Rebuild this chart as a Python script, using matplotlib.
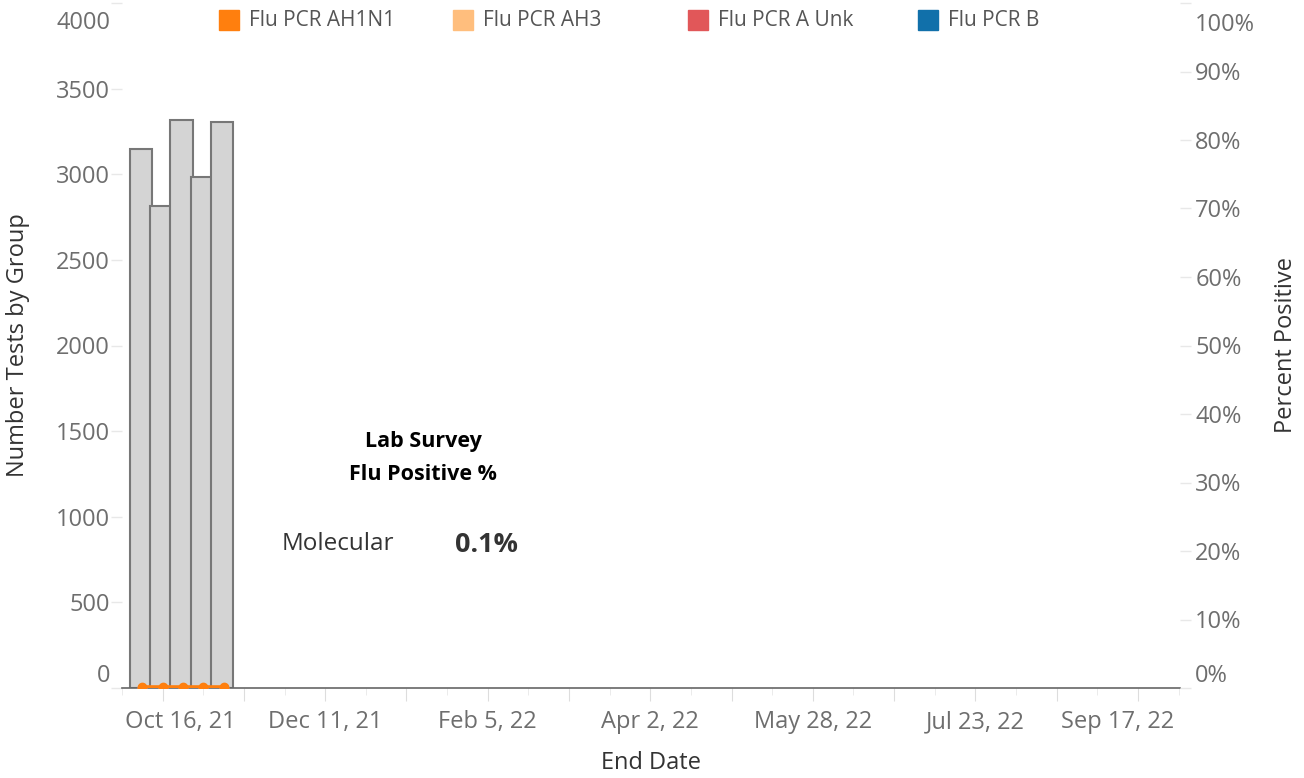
import matplotlib
matplotlib.use("Agg")
import matplotlib.pyplot as plt
import pandas as pd
from matplotlib.patches import Rectangle
from matplotlib.transforms import ScaledTranslation

plt.rcParams['font.family'] = ['Open Sans', 'DejaVu Sans']

# Weekly lab survey data
week_end = pd.to_datetime(['2021-10-09', '2021-10-16', '2021-10-23', '2021-10-30', '2021-11-06'])
total_tests = [3150, 2815, 3318, 2982, 3307]

pct_ah1n1 = [0.1, 0.1, 0.1, 0.1, 0.1]
pct_ah3 = [0.0, 0.0, 0.0, 0.0, 0.0]
pct_a_unk = [0.0, 0.0, 0.0, 0.0, 0.0]
pct_b = [0.0, 0.0, 0.0, 0.0, 0.0]

series_names = ['Flu PCR AH1N1', 'Flu PCR AH3', 'Flu PCR A Unk', 'Flu PCR B']
series_colors = ['#ff7f0e', '#ffbe7d', '#e15759', '#1170aa']
series_values = [pct_ah1n1, pct_ah3, pct_a_unk, pct_b]

left_ticks = [0, 500, 1000, 1500, 2000, 2500, 3000, 3500, 4000]
right_ticks = [0, 10, 20, 30, 40, 50, 60, 70, 80, 90, 100]
molecular_pct = '0.1%'

W, H = 1304, 778
fig = plt.figure(figsize=(W / 100, H / 100), dpi=100)

# ---- main axes (bars, number of tests) ----
ax = fig.add_axes([122 / W, 1 - 688 / H, (1180 - 122) / W, (688 - 3) / H])
ax.bar(week_end - pd.Timedelta(hours=12), total_tests, width=7.8, color='#d4d4d4',
       edgecolor='#777777', linewidth=1.5, zorder=2)
ax.set_ylim(0, 4000)
ax.set_xlim(pd.Timestamp('2021-10-03 16:00'), pd.Timestamp('2022-10-01 12:00'))

for s in ['top', 'left', 'right']:
    ax.spines[s].set_visible(False)
ax.spines['bottom'].set_color('#666666')
ax.spines['bottom'].set_linewidth(1.2)

ax.set_yticks(left_ticks)
ax.set_yticklabels([str(v) for v in left_ticks])
ax.tick_params(axis='y', length=8, color='#e8e8e8', width=1,
               labelsize=17, labelcolor='#6e6e6e', pad=0.5)

# x ticks: every 4 weeks, label every 8 weeks, minor every 2 weeks
major_dates = pd.date_range('2021-10-16', '2022-10-01', freq='28D')
minor_dates = pd.date_range('2021-10-02', '2022-10-01', freq='14D')
ax.set_xticks(major_dates)
ax.set_xticks(minor_dates, minor=True)
ax.set_xticklabels([f"{d:%b} {d.day}, {d:%y}" if i % 2 == 0 else ''
                    for i, d in enumerate(major_dates)])
ax.tick_params(axis='x', which='major', length=9, color='#dddddd',
               labelsize=17, labelcolor='#6e6e6e', pad=7)
ax.tick_params(axis='x', which='minor', length=5, color='#e8e8e8')

# ---- right axes (percent positive) ----
ax2 = ax.twinx()
ax2.set_ylim(0, 100)
for name, color, vals in reversed(list(zip(series_names, series_colors, series_values))):
    ax2.plot(week_end, vals, color=color, linewidth=2.6, marker='o',
             markersize=6, zorder=3, label=name)
for s in ax2.spines.values():
    s.set_visible(False)
ax2.set_yticks(right_ticks)
ax2.set_yticklabels([f"{v}%" for v in right_ticks])
ax2.tick_params(axis='y', length=8, color='#e8e8e8', width=1,
                labelsize=17, labelcolor='#6e6e6e', pad=3)

# Tableau nudges the end labels inside the pane
def nudge(label, dx, dy):
    label.set_transform(label.get_transform() + ScaledTranslation(dx / 100, dy / 100, fig.dpi_scale_trans))

ylab = ax.get_yticklabels()
nudge(ylab[0], 0, 15)
nudge(ylab[-1], 0, -17)
ylab2 = ax2.get_yticklabels()
nudge(ylab2[0], 0, 15)
nudge(ylab2[-1], 0, -19)
xlab = [t for t in ax.get_xticklabels() if t.get_text()]
nudge(xlab[0], 18, 0)
nudge(xlab[-1], -20, 0)

# ---- axis titles ----
fig.text(18 / W, 1 - 345 / H, 'Number Tests by Group', rotation=90,
         ha='center', va='center', fontsize=17, color='#333333')
fig.text(1286 / W, 1 - 345 / H, 'Percent Positive', rotation=90,
         ha='center', va='center', fontsize=17, color='#333333')
fig.text(651 / W, 1 - 763 / H, 'End Date', ha='center', va='center',
         fontsize=17, color='#333333')

# ---- legend across the top ----
legend_x = [219, 453, 688, 918]
for x0, name, color in zip(legend_x, series_names, series_colors):
    fig.add_artist(Rectangle((x0 / W, 1 - 30 / H), 20 / W, 20 / H,
                             transform=fig.transFigure, color=color))
    fig.text((x0 + 30) / W, 1 - 20 / H, name, ha='left', va='center',
             fontsize=15, color='#555555')

# ---- annotation box ----
fig.text(423 / W, 1 - 441 / H, 'Lab Survey', ha='center', va='center',
         fontsize=15.5, fontweight='bold', color='black')
fig.text(423 / W, 1 - 475 / H, 'Flu Positive %', ha='center', va='center',
         fontsize=15.5, fontweight='bold', color='black')
fig.text(282 / W, 1 - 544 / H, 'Molecular', ha='left', va='center',
         fontsize=17.5, color='#333333')
fig.text(455 / W, 1 - 545 / H, molecular_pct, ha='left', va='center',
         fontsize=19.5, fontweight='bold', color='#333333')

fig.savefig('out.png', dpi=100)
